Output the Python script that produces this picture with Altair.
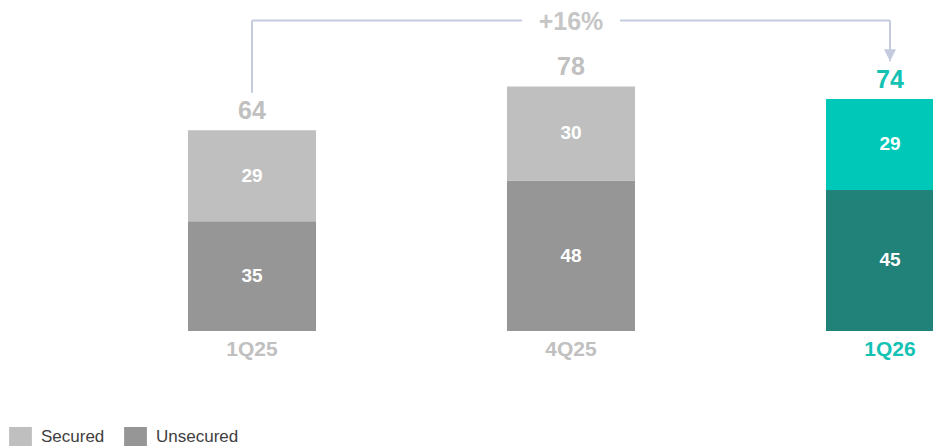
import altair as alt
import pandas as pd

# ---- data ----
categories = ["1Q25", "4Q25", "1Q26"]
secured = [29, 30, 29]
unsecured = [35, 48, 45]
totals = [64, 78, 74]
growth_label = "+16%"
series = ["Secured", "Unsecured"]
highlight = "1Q26"

# ---- styling ----
FONT = "Liberation Sans"
GRAY_TXT = "#c0c0c0"
TEAL_TXT = "#14c2b3"
LINE = "#c4cbdf"
COLOR_DOMAIN = ["Secured", "Unsecured", "Secured 1Q26", "Unsecured 1Q26"]
COLOR_RANGE = ["#bfbfbf", "#969696", "#00c8b8", "#21827a"]
ARROW_GAP = 12      # y-units between bar total and arrow ends
ARROW_LEVEL = 99    # y-level of the bracket line
RECT = "M-1.2,-1L1.2,-1L1.2,1L-1.2,1Z"
TRI = "M-1,-1L1,-1L0,1Z"

rows = []
for c, s, u in zip(categories, secured, unsecured):
    suf = " 1Q26" if c == highlight else ""
    rows.append(dict(cat=c, series="Unsecured", key="Unsecured" + suf, y0=0, y1=u, value=u))
    rows.append(dict(cat=c, series="Secured", key="Secured" + suf, y0=u, y1=u + s, value=s))
seg = pd.DataFrame(rows)
seg["mid"] = (seg["y0"] + seg["y1"]) / 2

tot = pd.DataFrame(dict(cat=categories, total=totals, base=[0] * len(categories)))

xs = alt.Scale(domain=categories, range=[0, 1126], paddingInner=0.5987, paddingOuter=0.5643)
ys = alt.Scale(domain=[0, 103], range=[323, 0])
X = lambda f="cat": alt.X(f"{f}:N", scale=xs, axis=None, title=None)
Y = lambda f: alt.Y(f"{f}:Q", scale=ys, axis=None, title=None)

hl_color = alt.condition(f"datum.cat == '{highlight}'", alt.value(TEAL_TXT), alt.value(GRAY_TXT))

bars = alt.Chart(seg).mark_bar().encode(
    x=X(), y=Y("y0"), y2="y1",
    color=alt.Color("key:N",
                    scale=alt.Scale(domain=COLOR_DOMAIN, range=COLOR_RANGE),
                    legend=alt.Legend(values=series, orient="none", legendX=3, legendY=419,
                                      direction="horizontal", title=None,
                                      symbolType=RECT, symbolSize=361, symbolStrokeWidth=0,
                                      symbolOpacity=1,
                                      labelFont=FONT, labelFontSize=17, labelColor="#404040",
                                      labelOffset=11, columnPadding=19, padding=0)),
)

seg_text = alt.Chart(seg).mark_text(font=FONT, fontSize=19, fontWeight="bold", color="white",
                                    baseline="middle").encode(
    x=X(), y=Y("mid"), text="value:Q")

tot_text = alt.Chart(tot).mark_text(font=FONT, fontSize=25, fontWeight="bold", baseline="middle",
                                    dy=-19).encode(
    x=X(), y=Y("total"), text="total:Q", color=hl_color)

cat_text = alt.Chart(tot).mark_text(font=FONT, fontSize=21, fontWeight="bold", baseline="middle",
                                    dy=19).encode(
    x=X(), y=Y("base"), text="cat:N", color=hl_color)

# growth bracket
vert = pd.DataFrame(dict(cat=[categories[0], categories[-1]],
                         lo=[totals[0] + ARROW_GAP, totals[-1] + ARROW_GAP],
                         hi=[ARROW_LEVEL, ARROW_LEVEL]))
vrules = alt.Chart(vert).mark_rule(color=LINE, strokeWidth=2).encode(x=X(), y=Y("lo"), y2="hi")

h1 = pd.DataFrame(dict(cat=[categories[0]], cat2=[categories[1]], lvl=[ARROW_LEVEL]))
h2 = pd.DataFrame(dict(cat=[categories[1]], cat2=[categories[2]], lvl=[ARROW_LEVEL]))
hr1 = alt.Chart(h1).mark_rule(color=LINE, strokeWidth=2, x2Offset=-49).encode(
    x=X(), x2="cat2:N", y=Y("lvl"))
hr2 = alt.Chart(h2).mark_rule(color=LINE, strokeWidth=2, xOffset=49).encode(
    x=X(), x2="cat2:N", y=Y("lvl"))

tip = pd.DataFrame(dict(cat=[categories[-1]], y=[totals[-1] + ARROW_GAP]))
arrow = alt.Chart(tip).mark_point(shape=TRI, size=144, filled=True, color=LINE, opacity=1,
                                  yOffset=-6).encode(x=X(), y=Y("y"))

glab = pd.DataFrame(dict(cat=[categories[1]], lvl=[ARROW_LEVEL], label=[growth_label]))
gtext = alt.Chart(glab).mark_text(font=FONT, fontSize=25, fontWeight="bold", color="#c6c6c6",
                                  baseline="middle", dy=1).encode(x=X(), y=Y("lvl"), text="label:N")

chart = alt.layer(bars, seg_text, tot_text, cat_text, vrules, hr1, hr2, arrow, gtext).properties(
    width=925, height=440, padding=0, autosize=alt.AutoSizeParams(type="none")
).configure_view(stroke=None)

chart.save("out.html", embed_options={"renderer": "svg", "actions": False})
